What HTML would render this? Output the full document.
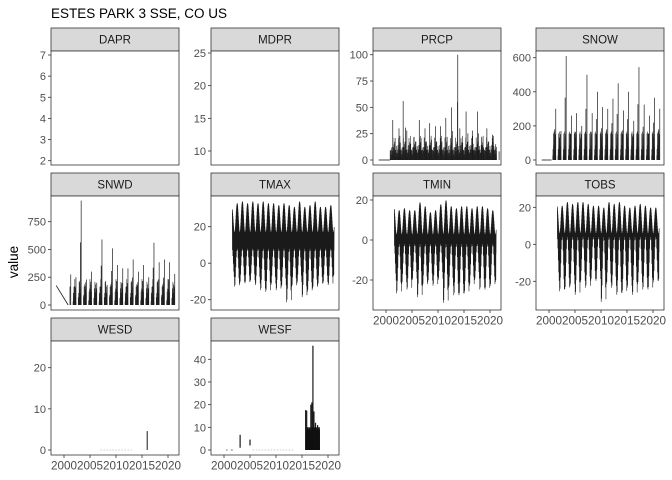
<!DOCTYPE html>
<html><head><meta charset="utf-8"><style>
html,body{margin:0;padding:0;background:#fff}
svg{display:block;font-family:"Liberation Sans",sans-serif}
</style></head><body>
<svg id="chart" width="672" height="480" viewBox="0 0 672 480">
<text x="51" y="18" font-size="13.5" fill="#000">ESTES PARK 3 SSE, CO US</text>
<text transform="translate(18,262) rotate(-90)" text-anchor="middle" font-size="13.5" fill="#000">value</text>
</svg>
<script>
// ---- data ----
const xTickYears = [2000, 2005, 2010, 2015, 2020];
const yearList = [2001,2002,2003,2004,2005,2006,2007,2008,2009,2010,2011,2012,2013,2014,2015,2016,2017,2018,2019,2020,2021];
const seasonWeights = [0.05,0.1,0.3,0.55,0.8,0.95,1,0.95,0.75,0.5,0.25,0.08];
const tmaxHi = [30,33,34,33,34,33,34,33,33,32,33,32,31,34,31,32,34,31,31,32,32];
const tmaxLo = [-9,-14,-12,-12,-11,-13,-16,-17,-13,-16,-14,-23,-14,-12,-20,-17,-15,-13,-12,-13,-8];
const tminHi = [16,15,16,15,15,19,17,14,15,18,20,17,16,17,17,16,17,17,16,15,15];
const tminLo = [-22,-28,-23,-26,-21,-30,-24,-22,-24,-21,-33,-25,-29,-29,-28,-24,-21,-26,-26,-24,-22];
const tobsHi = [21,21,23,22,23,23,22,21,21,20,23,22,23,21,20,21,22,21,20,20,20];
const tobsLo = [-22,-27,-26,-24,-29,-22,-25,-21,-21,-33,-23,-25,-29,-28,-25,-29,-23,-26,-26,-22,-21];
const prcpMax = [38,30,56,28,22,38,30,35,32,32,40,50,100,30,46,28,46,22,30,24,15];
const prcpMaxDate = [0.3,0.5,0.3,0.0,0.4,0.4,0.5,0.4,0.5,0.5,0.5,0.6,0.8,0.2,0.4,0.6,0.6,0.4,0.4,0.5,0.1];
const prcpPattern = [12,6,15,9,18,4,11,22,8,14,5,17,10,25,7,13];
const snowMax = [300,170,610,260,275,200,500,275,400,310,300,360,450,290,400,230,545,325,260,365,300];
const snowPattern = [120,60,200,90,150,40,230,110,70,180,50,140];
const snwdMax = [275,250,940,230,300,200,590,180,510,360,330,330,410,300,360,250,560,385,410,385,280];
const snwdPattern = [150,90,230,120,60,200,100,180,70,250];
const wesdSpike = [2016.0, 0, 4.6];
const wesfSegs = [[2003.1,1,6.7],[2005.0,2,4.6],[2015.7,0,17.6],[2015.9,0,17.4],[2016.1,0,10],[2016.7,0,20],[2016.9,0,21],[2017.1,0,46],[2017.3,0,17],[2017.6,0,12],[2018.0,0,11],[2018.3,0,10]];
// ---- layout ----
const svg = document.getElementById('chart');
const NS = 'http://www.w3.org/2000/svg';
function mk(tag, attrs, parent){ const e=document.createElementNS(NS,tag); for(const k in attrs) e.setAttribute(k,attrs[k]); (parent||svg).appendChild(e); return e; }
const colLeft=[51,211,373,536], rowTop=[28,173,318];
const panels=[
 {n:'DAPR',c:0,r:0,v1:7,y1:55,v2:2,y2:160.7,ticks:[2,3,4,5,6,7],xaxis:false},
 {n:'MDPR',c:1,r:0,v1:25,y1:53,v2:10,y2:151,ticks:[10,15,20,25],xaxis:false},
 {n:'PRCP',c:2,r:0,v1:100,y1:54.7,v2:0,y2:160,ticks:[0,25,50,75,100],xaxis:false},
 {n:'SNOW',c:3,r:0,v1:600,y1:57.7,v2:0,y2:160,ticks:[0,200,400,600],xaxis:false},
 {n:'SNWD',c:0,r:1,v1:750,y1:221.7,v2:0,y2:305,ticks:[0,250,500,750],xaxis:false},
 {n:'TMAX',c:1,r:1,v1:20,y1:226.7,v2:-20,y2:299.7,ticks:[-20,0,20],xaxis:false},
 {n:'TMIN',c:2,r:1,v1:20,y1:200,v2:-20,y2:280,ticks:[-20,0,20],xaxis:true},
 {n:'TOBS',c:3,r:1,v1:20,y1:207.3,v2:-20,y2:281.3,ticks:[-20,0,20],xaxis:true},
 {n:'WESD',c:0,r:2,v1:20,y1:367.7,v2:0,y2:450,ticks:[0,10,20],xaxis:true},
 {n:'WESF',c:1,r:2,v1:40,y1:359.3,v2:0,y2:450,ticks:[0,10,20,30,40],xaxis:true}
];
const P={};
panels.forEach(p=>{
 const L=colLeft[p.c], T=rowTop[p.r], W=128;
 p.L=L; p.top=T+23; p.bot=T+137;
 p.x=yr=>L+13+(yr-2000)*5.2;
 p.y=v=>p.y1+(v-p.v1)*(p.y2-p.y1)/(p.v2-p.v1);
 const g=mk('g',{});
 
 
 const s=mk('rect',{x:L,y:T,width:W,height:23,fill:'#d9d9d9',stroke:'#333',"stroke-width":0.8},g);
 
 
 const st=mk('text',{x:L+W/2,y:T+15.5,"text-anchor":'middle',"font-size":11.5,fill:'#1a1a1a'},g);
 st.textContent=p.n;
 
 
 const bg=mk('rect',{x:L,y:T+23,width:W,height:114,fill:'#fff',stroke:'#333',"stroke-width":0.8},g);
 
 
 p.g=mk('g',{},g);
 p.ticks.forEach(t=>{
  const yy=p.y(t);
  mk('line',{x1:L-3,x2:L,y1:yy,y2:yy,stroke:'#333',"stroke-width":0.8},g);
  const tl=mk('text',{x:L-5,y:yy+4,"text-anchor":'end',"font-size":11,fill:'#4d4d4d'},g);
  tl.textContent=t;
  
  
 });
 if(p.xaxis){
  xTickYears.forEach(t=>{
   const xx=p.x(t);
   mk('line',{x1:xx,x2:xx,y1:p.bot,y2:p.bot+3,stroke:'#333',"stroke-width":0.8},g);
   const tl=mk('text',{x:xx,y:p.bot+14.5,"text-anchor":'middle',"font-size":11.7,fill:'#4d4d4d'},g);
   tl.textContent=t;
   
   
  });
 }
 P[p.n]=p;
});
function seas(t){ const f=(t-Math.floor(t))*12-0.5; const i=Math.floor(f); const a=seasonWeights[(i+12)%12], b=seasonWeights[(i+13)%12]; return a+(b-a)*(f-i); }
function tempSeries(p,hi,lo,winterHigh,summerLow,start,end,name){
 let d='', k=0;
 for(let t=start;t<=end;t+=1/48,k++){
  const yi=Math.min(yearList.length-1,Math.max(0,Math.floor(t)-2001));
  const s=seas(t);
  const up=winterHigh+s*(hi[yi]-winterHigh);
  const dn=lo[yi]+s*(summerLow-lo[yi]);
  const v=(k%2==0)?up:(k%4==1?dn:(up+dn)/2);
  d+=(d?'L':'M')+p.x(t).toFixed(2)+','+p.y(v).toFixed(2);
 }
 const e=mk('path',{d:d,fill:'none',stroke:'#1a1a1a',"stroke-width":0.6},p.g);
 
 
}
tempSeries(P.TMAX,tmaxHi,tmaxLo,16,8,2001.6,2021.2,'tmax-line');
tempSeries(P.TMIN,tminHi,tminLo,2,-2,2001.6,2021.2,'tmin-line');
tempSeries(P.TOBS,tobsHi,tobsLo,5,4,2001.6,2021.2,'tobs-line');
function vline(p,t,v0,v1,name,color,w){ const e=mk('line',{x1:p.x(t),x2:p.x(t),y1:p.y(v0),y2:p.y(v1),stroke:color||'#1a1a1a',"stroke-width":w||0.7},p.g);   return e; }
function hline(p,t0,t1,v,name,color,dash){ const e=mk('line',{x1:p.x(t0),x2:p.x(t1),y1:p.y(v),y2:p.y(v),stroke:color||'#1a1a1a',"stroke-width":0.8},p.g); if(dash) e.setAttribute('stroke-dasharray',dash);   }
// PRCP
hline(P.PRCP,1998.6,2000.8,0,'prcp-flat');
let k=0;
for(let t=2000.8;t<2021.3;t+=1/24,k++){ vline(P.PRCP,t,0,prcpPattern[k%prcpPattern.length]*(0.5+0.5*seas(t)),'prcp-bar','#222',0.6); }
yearList.forEach((y,i)=>{ vline(P.PRCP,y+prcpMaxDate[i],0,prcpMax[i],'prcp-spike'); vline(P.PRCP,y+0.75,0,prcpMax[i]*0.55,'prcp-spike'); });
// SNOW
hline(P.SNOW,1998.6,2000.5,0,'snow-flat');
k=0;
for(let t=2000.6;t<2021.2;t+=1/24,k++){ const s=1-seas(t); if(s>0.3) vline(P.SNOW,t,0,snowPattern[k%snowPattern.length]*s,'snow-bar','#222',0.6); }
yearList.forEach((y,i)=>{ vline(P.SNOW,y+0.3,0,snowMax[i],'snow-spike'); vline(P.SNOW,y+0.1,0,snowMax[i]*0.6,'snow-spike'); });
// SNWD
const sw=mk('line',{x1:P.SNWD.x(1998.5),y1:P.SNWD.y(175),x2:P.SNWD.x(2000.8),y2:P.SNWD.y(0),stroke:'#1a1a1a',"stroke-width":0.8},P.SNWD.g);


k=0;
for(let t=2001.7;t<2021.2;t+=1/24,k++){ const s=1-seas(t); if(s>0.35) vline(P.SNWD,t,0,snwdPattern[k%snwdPattern.length]*s,'snwd-bar','#222',0.6); }
yearList.forEach((y,i)=>{ vline(P.SNWD,y+0.3,0,snwdMax[i],'snwd-spike'); vline(P.SNWD,y+0.15,0,snwdMax[i]*0.6,'snwd-spike'); });
// WESD
hline(P.WESD,2007,2013,0,'wesd-zero','#bbb','1.5,1.5');
vline(P.WESD,wesdSpike[0],wesdSpike[1],wesdSpike[2],'wesd-spike','#1a1a1a',1);
// WESF
hline(P.WESF,2000.4,2000.7,0,'wesf-zero','#555');
hline(P.WESF,2001.3,2001.7,0,'wesf-zero','#555');
hline(P.WESF,2005.5,2013.5,0,'wesf-zero','#bbb','1.5,1.5');
wesfSegs.forEach(s=>{ vline(P.WESF,s[0],s[1],s[2],'wesf-spike','#1a1a1a',1.2); });
k=0;
for(let t=2015.8;t<2018.4;t+=1/40,k++){ vline(P.WESF,t,0,[6,9,4,8,3,10][k%6],'wesf-bar','#111',0.8); }
</script>
</body></html>
